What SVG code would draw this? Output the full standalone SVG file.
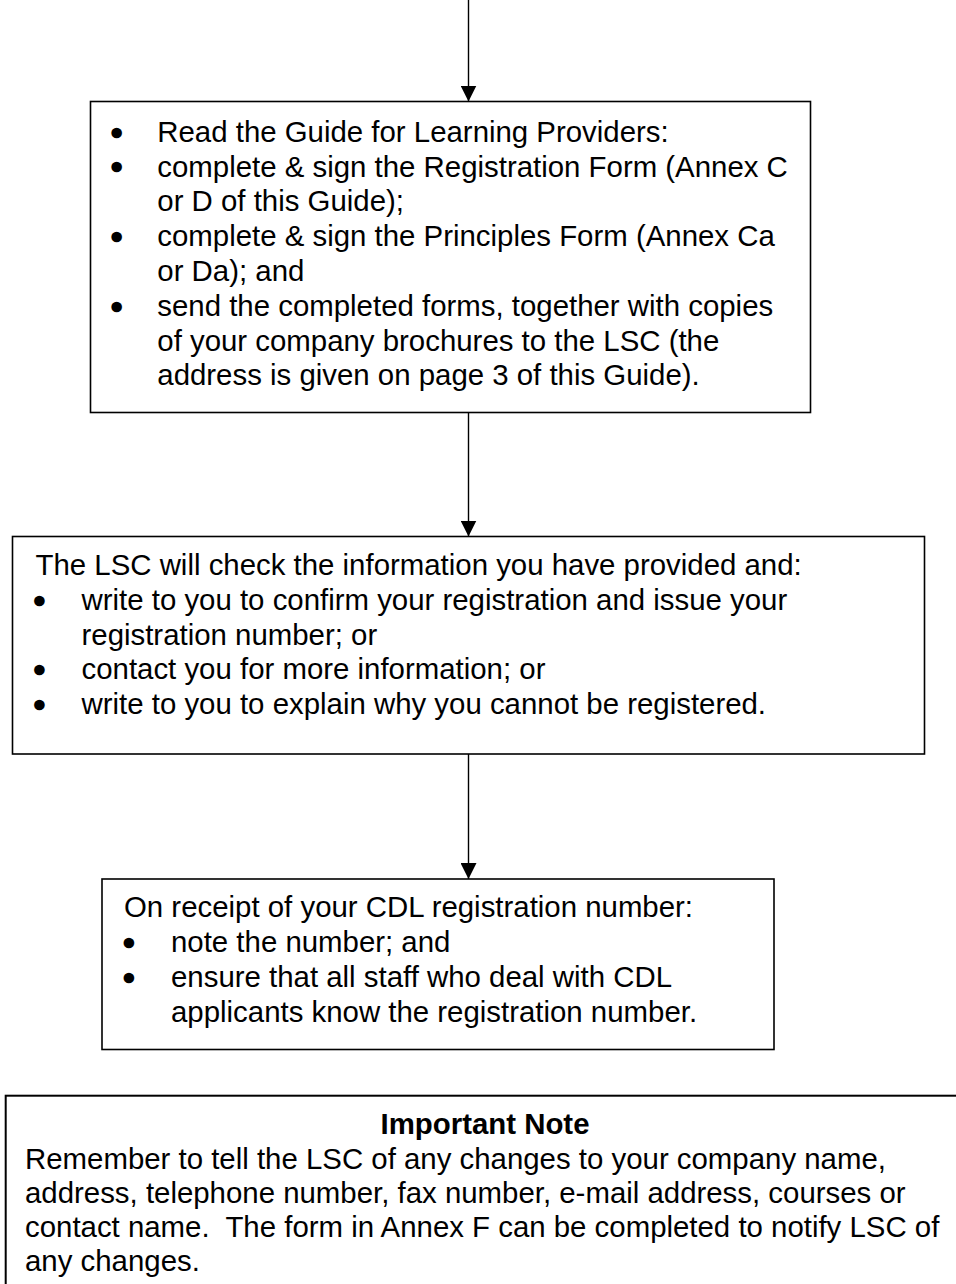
<svg xmlns="http://www.w3.org/2000/svg" width="956" height="1284" viewBox="0 0 956 1284">
<style>
.box{fill:#fff;stroke:#000;stroke-width:1.6}
.note{fill:#fff;stroke:#000;stroke-width:2}
.t{font-family:"Liberation Sans",Arial,sans-serif;font-size:29.4px;fill:#000}
.b{font-weight:bold}
.blt{font-family:"Liberation Sans",Arial,sans-serif;font-size:29.4px;fill:#000;stroke:#000;stroke-width:2.6;stroke-linejoin:round;text-anchor:middle}
.conn{stroke:#000;stroke-width:1.4;fill:none}
</style>
<defs>
<marker id="arr" markerUnits="userSpaceOnUse" markerWidth="16" markerHeight="16" refX="16" refY="8" orient="auto">
<path d="M0,0 L16,8 L0,16 Z" fill="#000"/>
</marker>
</defs>
<rect width="956" height="1284" fill="#fff"/>
<g id="connectors">
<line class="conn" x1="468.5" y1="0" x2="468.5" y2="101.5" marker-end="url(#arr)"/>
<line class="conn" x1="468.5" y1="412.5" x2="468.5" y2="536.5" marker-end="url(#arr)"/>
<line class="conn" x1="468.5" y1="754" x2="468.5" y2="879" marker-end="url(#arr)"/>
</g>
<g id="node-read">
<rect class="box" x="90.5" y="101.5" width="720" height="311"/>
<text class="blt" x="116.7" y="142.5">•</text>
<text class="t" x="157.3" y="141.7">Read the Guide for Learning Providers:</text>
<text class="blt" x="116.7" y="177.3">•</text>
<text class="t" x="157.3" y="176.5">complete &amp; sign the Registration Form (Annex C</text>
<text class="t" x="157.3" y="211.3">or D of this Guide);</text>
<text class="blt" x="116.7" y="246.9">•</text>
<text class="t" x="157.3" y="246.1">complete &amp; sign the Principles Form (Annex Ca</text>
<text class="t" x="157.3" y="280.9">or Da); and</text>
<text class="blt" x="116.7" y="316.5">•</text>
<text class="t" x="157.3" y="315.7">send the completed forms, together with copies</text>
<text class="t" x="157.3" y="350.5">of your company brochures to the LSC (the</text>
<text class="t" x="157.3" y="385.3">address is given on page 3 of this Guide).</text>
</g>
<g id="node-check">
<rect class="box" x="12.5" y="536.5" width="912" height="217.5"/>
<text class="t" x="35.5" y="575">The LSC will check the information you have provided and:</text>
<text class="blt" x="39.3" y="610.6">•</text>
<text class="t" x="81.5" y="609.8">write to you to confirm your registration and issue your</text>
<text class="t" x="81.5" y="644.6">registration number; or</text>
<text class="blt" x="39.3" y="680.2">•</text>
<text class="t" x="81.5" y="679.4">contact you for more information; or</text>
<text class="blt" x="39.3" y="715">•</text>
<text class="t" x="81.5" y="714.2">write to you to explain why you cannot be registered.</text>
</g>
<g id="node-receipt">
<rect class="box" x="102" y="879" width="672" height="170.5"/>
<text class="t" x="124" y="916.7">On receipt of your CDL registration number:</text>
<text class="blt" x="129" y="952.5">•</text>
<text class="t" x="171" y="951.7">note the number; and</text>
<text class="blt" x="129" y="987.5">•</text>
<text class="t" x="171" y="986.7">ensure that all staff who deal with CDL</text>
<text class="t" x="171" y="1021.7">applicants know the registration number.</text>
</g>
<g id="node-note">
<rect class="note" x="5.7" y="1095.7" width="980" height="240"/>
<text class="t b" x="485" y="1134" text-anchor="middle">Important Note</text>
<text class="t" x="25" y="1168.5">Remember to tell the LSC of any changes to your company name,</text>
<text class="t" x="25" y="1202.5">address, telephone number, fax number, e-mail address, courses or</text>
<text class="t" x="25" y="1236.5" xml:space="preserve" style="white-space:pre">contact name.  The form in Annex F can be completed to notify LSC of</text>
<text class="t" x="25" y="1270.5">any changes.</text>
</g>
</svg>
